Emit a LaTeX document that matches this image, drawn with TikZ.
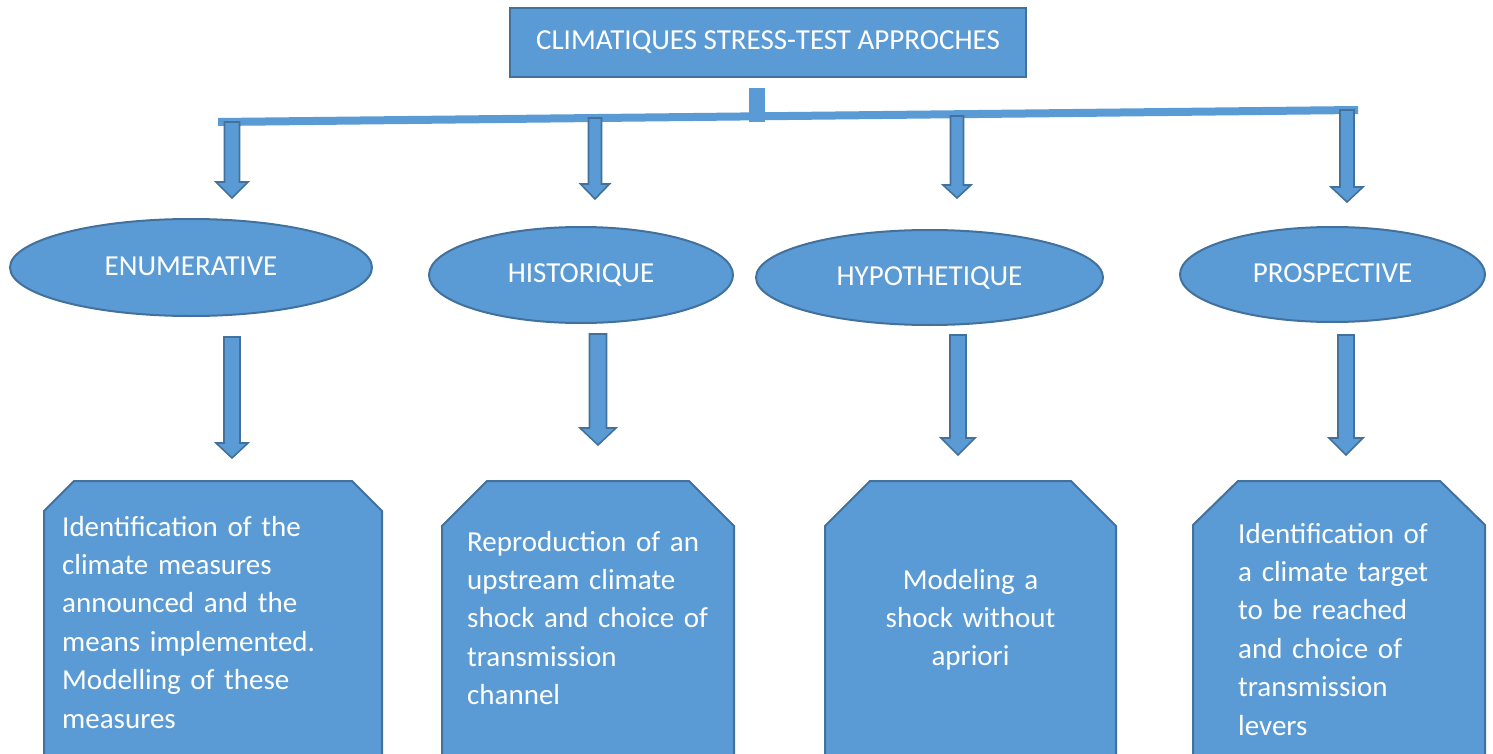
\documentclass[tikz,border=0pt]{standalone}
\usepackage{fontspec}
\setmainfont{Carlito}
\usetikzlibrary{shapes.geometric}
\definecolor{ofill}{RGB}{91,155,213}
\definecolor{oline}{RGB}{65,113,156}
\tikzset{
  shapefill/.style={fill=ofill, draw=oline, line width=2pt},
  ovalnode/.style={ellipse, shapefill, inner sep=0pt, text=white,
     font=\fontsize{29}{38.4}\selectfont, text height=18.7pt, text depth=3.5pt},
  titlenode/.style={rectangle, shapefill, inner sep=0pt, text=white,
     font=\fontsize{29}{38.4}\selectfont, text height=18.7pt, text depth=5pt},
  btext/.style={inner sep=0pt, text=white, font=\fontsize{29}{38.4}\selectfont},
  barrow/.style={fill=ofill, draw=oline, line width=1.6pt, line join=miter},
  barfill/.style={fill=ofill, draw=none}
}
\newcommand\blockarrow[6]{%
  \draw[barrow] ({#1-#5},{#2}) -- ({#1+#5},{#2}) -- ({#1+#5},{#3}) -- ({#1+#6},{#3})
    -- ({#1},{#4}) -- ({#1-#6},{#3}) -- ({#1-#5},{#3}) -- cycle;}
\begin{document}
\begin{tikzpicture}[x=1pt,y=-1pt]
\useasboundingbox (0,0) rectangle (1493,754);
\fill[white] (0,0) rectangle (1493,754);

% title
\node[titlenode, minimum width=516pt, minimum height=69pt] (title) at (768,42.5)
  {CLIMATIQUES STRESS-TEST APPROCHES};

% stem and bar
\fill[barfill] (749,88) rectangle (765,122);
\fill[barfill] (218,118) -- (1358,106) -- (1358,114) -- (218,126) -- cycle;

% top arrows
\blockarrow{232}{122}{182}{198}{7.5}{16}
\blockarrow{595}{118}{184}{199}{6.5}{14.5}
\blockarrow{957}{116}{185}{198}{6.5}{14}
\blockarrow{1347}{110}{187}{202}{7}{16}

% ellipses
\node[ovalnode, minimum width=362pt, minimum height=97pt] (enum) at (191,267.5) {ENUMERATIVE};
\node[ovalnode, minimum width=304pt, minimum height=96pt] (hist) at (581,275) {HISTORIQUE};
\node[ovalnode, minimum width=347pt, minimum height=95pt] (hypo) at (929.5,277.5) {HYPOTHETIQUE};
\node[ovalnode, minimum width=305pt, minimum height=95pt] (pros) at (1332.5,274.5) {PROSPECTIVE};

% bottom arrows
\blockarrow{232}{337}{443}{458}{8}{16}
\blockarrow{598}{334}{428}{445}{8.5}{18}
\blockarrow{958}{335}{438}{455}{8}{17}
\blockarrow{1346}{335}{438}{455}{8}{17}

% bottom boxes
\draw[shapefill] (44,770) -- (44,511) -- (74,481) -- (352,481) -- (382,511) -- (382,770);
\draw[shapefill] (442,770) -- (442,526) -- (487,481) -- (689,481) -- (734,526) -- (734,770);
\draw[shapefill] (825,770) -- (825,526) -- (870,481) -- (1071,481) -- (1116,526) -- (1116,770);
\draw[shapefill] (1193,770) -- (1193,525) -- (1238,481) -- (1440,481) -- (1485,525) -- (1485,770);

\node[btext, text width=310pt, align=left, anchor=base west] (t1) at (62,536)
  {Identification of the\\climate measures\\announced and the\\means implemented.\\Modelling of these\\measures};
\node[btext, text width=260pt, align=left, anchor=base west] (t2) at (467,551)
  {Reproduction of an\\upstream climate\\shock and choice of\\transmission\\channel};
\node[btext, text width=270pt, align=center, anchor=base] (t3) at (970.5,589)
  {Modeling a\\shock without\\apriori};
\node[btext, text width=240pt, align=left, anchor=base west] (t4) at (1238,543)
  {Identification of\\a climate target\\to be reached\\and choice of\\transmission\\levers};
\end{tikzpicture}
\end{document}
